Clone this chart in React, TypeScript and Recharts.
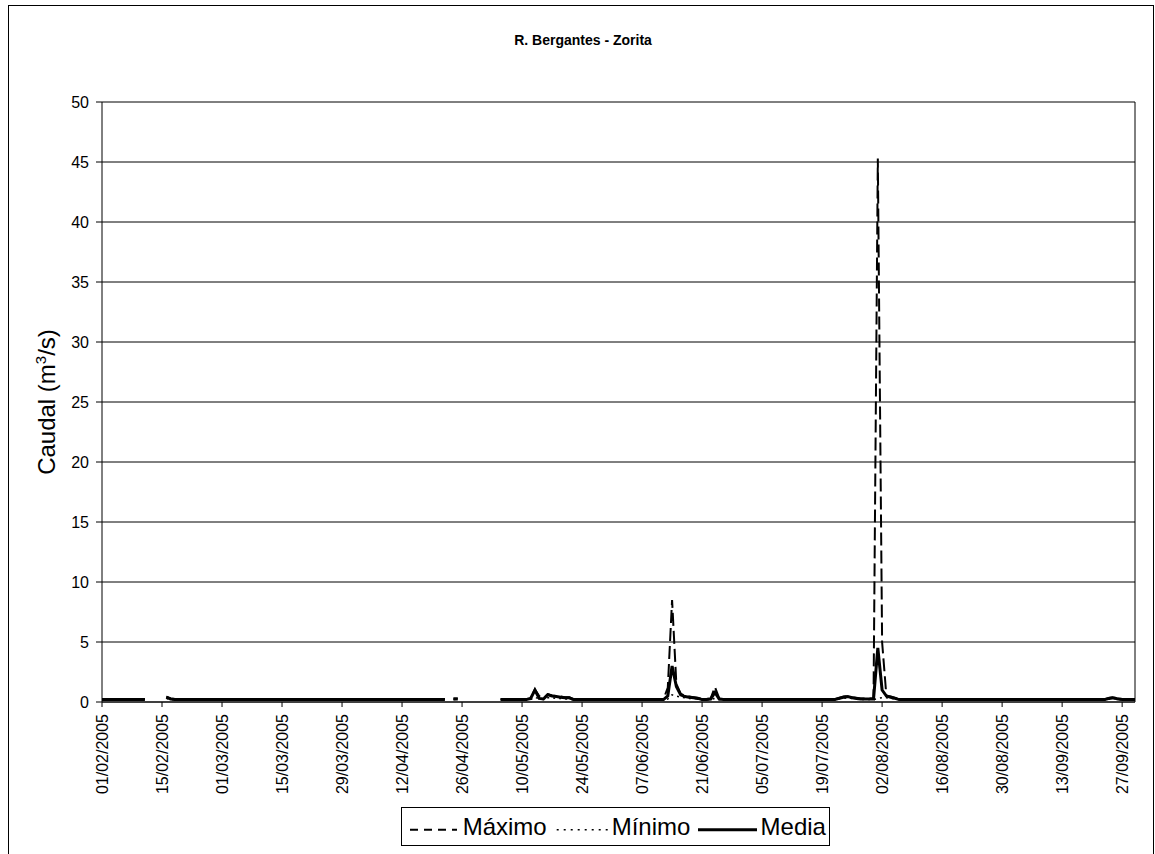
import React from 'react';
import { LineChart, Line, XAxis, YAxis, CartesianGrid, Legend, ReferenceLine } from 'recharts';

const FONT = "'Liberation Sans', Arial, sans-serif";
const N = null;

// Categories: daily dates from 01/02/2005 to 30/09/2005
const START_UTC = Date.UTC(2005, 1, 1);
const DAY_COUNT = 242;
const pad = (n: number) => (n < 10 ? '0' + n : '' + n);
const dates: string[] = [];
for (let i = 0; i < DAY_COUNT; i++) {
  const d = new Date(START_UTC + i * 86400000);
  dates.push(`${pad(d.getUTCDate())}/${pad(d.getUTCMonth() + 1)}/${d.getUTCFullYear()}`);
}

const seriesNames = ['Máximo', 'Mínimo', 'Media'];
const yTicks = [0, 5, 10, 15, 20, 25, 30, 35, 40, 45, 50];

const maximo: (number | null)[] = [
  0.25, 0.25, 0.25, 0.25, 0.25, 0.25, 0.25, 0.25, 0.25, 0.25,
  0.25, N, N, N, N, 0.45, 0.3, 0.25, 0.25, 0.25,
  0.25, 0.25, 0.25, 0.25, 0.25, 0.25, 0.25, 0.25, 0.25, 0.25,
  0.25, 0.25, 0.25, 0.25, 0.25, 0.25, 0.25, 0.25, 0.25, 0.25,
  0.25, 0.25, 0.25, 0.25, 0.25, 0.25, 0.25, 0.25, 0.25, 0.25,
  0.25, 0.25, 0.25, 0.25, 0.25, 0.25, 0.25, 0.25, 0.25, 0.25,
  0.25, 0.25, 0.25, 0.25, 0.25, 0.25, 0.25, 0.25, 0.25, 0.25,
  0.25, 0.25, 0.25, 0.25, 0.25, 0.25, 0.25, 0.25, 0.25, 0.25,
  0.25, N, 0.3, 0.3, N, N, N, N, N, N,
  N, N, N, 0.25, 0.25, 0.25, 0.25, 0.25, 0.25, 0.25,
  0.3, 1.05, 0.5, 0.3, 0.65, 0.55, 0.5, 0.45, 0.4, 0.4,
  0.25, 0.25, 0.25, 0.25, 0.25, 0.25, 0.25, 0.25, 0.25, 0.25,
  0.25, 0.25, 0.25, 0.25, 0.25, 0.25, 0.25, 0.25, 0.25, 0.25,
  0.25, 0.25, 1.2, 8.5, 1.5, 0.7, 0.5, 0.45, 0.4, 0.35,
  0.25, 0.25, 0.3, 1.25, 0.3, 0.25, 0.25, 0.25, 0.25, 0.25,
  0.25, 0.25, 0.25, 0.25, 0.25, 0.25, 0.25, 0.25, 0.25, 0.25,
  0.25, 0.25, 0.25, 0.25, 0.25, 0.25, 0.25, 0.25, 0.25, 0.25,
  0.25, 0.25, 0.35, 0.45, 0.5, 0.4, 0.35, 0.3, 0.3, 0.3,
  0.3, 45.3, 5.0, 0.5, 0.45, 0.35, 0.25, 0.25, 0.25, 0.25,
  0.25, 0.25, 0.25, 0.25, 0.25, 0.25, 0.25, 0.25, 0.25, 0.25,
  0.25, 0.25, 0.25, 0.25, 0.25, 0.25, 0.25, 0.25, 0.25, 0.25,
  0.25, 0.25, 0.25, 0.25, 0.25, 0.25, 0.25, 0.25, 0.25, 0.25,
  0.25, 0.25, 0.25, 0.25, 0.25, 0.25, 0.25, 0.25, 0.25, 0.25,
  0.25, 0.25, 0.25, 0.25, 0.25, 0.35, 0.4, 0.3, 0.25, 0.25,
  0.25, 0.25,
];

const minimo: (number | null)[] = [
  0.18, 0.18, 0.18, 0.18, 0.18, 0.18, 0.18, 0.18, 0.18, 0.18,
  0.18, N, N, N, N, 0.3, 0.2, 0.18, 0.18, 0.18,
  0.18, 0.18, 0.18, 0.18, 0.18, 0.18, 0.18, 0.18, 0.18, 0.18,
  0.18, 0.18, 0.18, 0.18, 0.18, 0.18, 0.18, 0.18, 0.18, 0.18,
  0.18, 0.18, 0.18, 0.18, 0.18, 0.18, 0.18, 0.18, 0.18, 0.18,
  0.18, 0.18, 0.18, 0.18, 0.18, 0.18, 0.18, 0.18, 0.18, 0.18,
  0.18, 0.18, 0.18, 0.18, 0.18, 0.18, 0.18, 0.18, 0.18, 0.18,
  0.18, 0.18, 0.18, 0.18, 0.18, 0.18, 0.18, 0.18, 0.18, 0.18,
  0.18, N, 0.2, 0.2, N, N, N, N, N, N,
  N, N, N, 0.18, 0.18, 0.18, 0.18, 0.18, 0.18, 0.18,
  0.2, 0.4, 0.25, 0.2, 0.35, 0.35, 0.3, 0.3, 0.25, 0.25,
  0.18, 0.18, 0.18, 0.18, 0.18, 0.18, 0.18, 0.18, 0.18, 0.18,
  0.18, 0.18, 0.18, 0.18, 0.18, 0.18, 0.18, 0.18, 0.18, 0.18,
  0.18, 0.18, 0.25, 0.6, 0.5, 0.4, 0.35, 0.3, 0.3, 0.25,
  0.18, 0.18, 0.2, 0.3, 0.2, 0.18, 0.18, 0.18, 0.18, 0.18,
  0.18, 0.18, 0.18, 0.18, 0.18, 0.18, 0.18, 0.18, 0.18, 0.18,
  0.18, 0.18, 0.18, 0.18, 0.18, 0.18, 0.18, 0.18, 0.18, 0.18,
  0.18, 0.18, 0.25, 0.3, 0.35, 0.3, 0.25, 0.2, 0.2, 0.2,
  0.2, 0.3, 0.35, 0.35, 0.3, 0.25, 0.18, 0.18, 0.18, 0.18,
  0.18, 0.18, 0.18, 0.18, 0.18, 0.18, 0.18, 0.18, 0.18, 0.18,
  0.18, 0.18, 0.18, 0.18, 0.18, 0.18, 0.18, 0.18, 0.18, 0.18,
  0.18, 0.18, 0.18, 0.18, 0.18, 0.18, 0.18, 0.18, 0.18, 0.18,
  0.18, 0.18, 0.18, 0.18, 0.18, 0.18, 0.18, 0.18, 0.18, 0.18,
  0.18, 0.18, 0.18, 0.18, 0.18, 0.25, 0.3, 0.2, 0.18, 0.18,
  0.18, 0.18,
];

const media: (number | null)[] = [
  0.2, 0.2, 0.2, 0.2, 0.2, 0.2, 0.2, 0.2, 0.2, 0.2,
  0.2, N, N, N, N, 0.4, 0.25, 0.2, 0.2, 0.2,
  0.2, 0.2, 0.2, 0.2, 0.2, 0.2, 0.2, 0.2, 0.2, 0.2,
  0.2, 0.2, 0.2, 0.2, 0.2, 0.2, 0.2, 0.2, 0.2, 0.2,
  0.2, 0.2, 0.2, 0.2, 0.2, 0.2, 0.2, 0.2, 0.2, 0.2,
  0.2, 0.2, 0.2, 0.2, 0.2, 0.2, 0.2, 0.2, 0.2, 0.2,
  0.2, 0.2, 0.2, 0.2, 0.2, 0.2, 0.2, 0.2, 0.2, 0.2,
  0.2, 0.2, 0.2, 0.2, 0.2, 0.2, 0.2, 0.2, 0.2, 0.2,
  0.2, N, 0.25, 0.25, N, N, N, N, N, N,
  N, N, N, 0.2, 0.2, 0.2, 0.2, 0.2, 0.2, 0.2,
  0.3, 1.0, 0.3, 0.25, 0.6, 0.5, 0.45, 0.4, 0.35, 0.35,
  0.2, 0.2, 0.2, 0.2, 0.2, 0.2, 0.2, 0.2, 0.2, 0.2,
  0.2, 0.2, 0.2, 0.2, 0.2, 0.2, 0.2, 0.2, 0.2, 0.2,
  0.2, 0.2, 0.5, 3.0, 1.3, 0.6, 0.45, 0.4, 0.35, 0.3,
  0.2, 0.2, 0.25, 0.8, 0.25, 0.2, 0.2, 0.2, 0.2, 0.2,
  0.2, 0.2, 0.2, 0.2, 0.2, 0.2, 0.2, 0.2, 0.2, 0.2,
  0.2, 0.2, 0.2, 0.2, 0.2, 0.2, 0.2, 0.2, 0.2, 0.2,
  0.2, 0.2, 0.3, 0.4, 0.45, 0.35, 0.3, 0.25, 0.25, 0.25,
  0.25, 4.5, 1.0, 0.5, 0.4, 0.3, 0.2, 0.2, 0.2, 0.2,
  0.2, 0.2, 0.2, 0.2, 0.2, 0.2, 0.2, 0.2, 0.2, 0.2,
  0.2, 0.2, 0.2, 0.2, 0.2, 0.2, 0.2, 0.2, 0.2, 0.2,
  0.2, 0.2, 0.2, 0.2, 0.2, 0.2, 0.2, 0.2, 0.2, 0.2,
  0.2, 0.2, 0.2, 0.2, 0.2, 0.2, 0.2, 0.2, 0.2, 0.2,
  0.2, 0.2, 0.2, 0.2, 0.2, 0.3, 0.35, 0.25, 0.2, 0.2,
  0.2, 0.2,
];

const data = dates.map((date, i) => ({
  date,
  maximo: maximo[i],
  minimo: minimo[i],
  media: media[i],
}));

const XTick = (props: any) => {
  const { x, y, payload } = props;
  return (
    <text
      x={x}
      y={y}
      dy="0.36em"
      transform={`rotate(-90, ${x}, ${y})`}
      textAnchor="end"
      fontSize={16}
      fontFamily={FONT}
      fill="#000"
    >
      {payload.value}
    </text>
  );
};

const YLabel = () => (
  <text
    x={46}
    y={396}
    transform="rotate(-90, 46, 396)"
    textAnchor="middle"
    fontSize={24}
    fontFamily={FONT}
    fill="#000"
  >
    <tspan>Caudal (m</tspan>
    <tspan fontSize={15} dy={-9}>3</tspan>
    <tspan dy={9}>/s)</tspan>
  </text>
);

const legendStyles: Record<string, { dash?: string; width: number; x1: number; x2: number; tx: number }> = {
  'Máximo': { dash: '8 6', width: 2, x1: 9, x2: 56, tx: 61.7 },
  'Mínimo': { dash: '2 5', width: 1.5, x1: 155.7, x2: 208, tx: 210.7 },
  'Media': { dash: undefined, width: 3, x1: 297, x2: 356, tx: 359.6 },
};

const LegendBox = () => (
  <svg width={429} height={39} style={{ display: 'block' }}>
    <rect x={0.5} y={0.5} width={428} height={38} fill="#fff" stroke="#000" strokeWidth={1} />
    {seriesNames.map((name) => {
      const s = legendStyles[name];
      return (
        <g key={name}>
          <line x1={s.x1} x2={s.x2} y1={22.7} y2={22.7} stroke="#000" strokeWidth={s.width} strokeDasharray={s.dash} />
          <text x={s.tx} y={28} fontSize={24} fontFamily={FONT} fill="#000">
            {name}
          </text>
        </g>
      );
    })}
  </svg>
);

export default function App() {
  return (
    <div
      style={{
        position: 'absolute',
        left: 8,
        top: 5,
        width: 1146,
        height: 860,
        border: '1px solid #000',
        boxSizing: 'border-box',
        background: '#fff',
      }}
    >
      <svg width={1144} height={60} style={{ position: 'absolute', left: 0, top: 0, zIndex: 1 }}>
        <text x={574} y={39} textAnchor="middle" fontSize={14} fontWeight="bold" fontFamily={FONT} fill="#000">
          R. Bergantes - Zorita
        </text>
      </svg>
      <LineChart
        width={1144}
        height={848}
        data={data}
        margin={{ top: 96, right: 18, left: 0, bottom: 52 }}
      >
        <CartesianGrid vertical={false} stroke="#000" strokeWidth={1} />
        <XAxis
          dataKey="date"
          scale="point"
          interval={13}
          tickSize={5}
          tickMargin={7}
          height={100}
          axisLine={{ stroke: '#000' }}
          tickLine={{ stroke: '#000' }}
          tick={XTick}
        />
        <YAxis
          type="number"
          domain={[0, 50]}
          ticks={yTicks}
          interval={0}
          width={93}
          tickSize={6}
          tickMargin={7}
          axisLine={{ stroke: '#000' }}
          tickLine={{ stroke: '#000' }}
          tick={{ fontSize: 16, fill: '#000', fontFamily: FONT }}
          label={{ content: YLabel }}
        />
        <ReferenceLine x={dates[DAY_COUNT - 1]} stroke="#000" strokeWidth={1} />
        <Legend
          layout="horizontal"
          verticalAlign="middle"
          align="center"
          content={LegendBox}
          wrapperStyle={{ left: 392, top: 801, width: 429, height: 39 }}
        />
        <Line
          name={seriesNames[0]}
          dataKey="maximo"
          stroke="#000"
          strokeWidth={2}
          strokeDasharray="13 5"
          dot={false}
          activeDot={false}
          isAnimationActive={false}
        />
        <Line
          name={seriesNames[1]}
          dataKey="minimo"
          stroke="#000"
          strokeWidth={1.5}
          strokeDasharray="2 4"
          dot={false}
          activeDot={false}
          isAnimationActive={false}
        />
        <Line
          name={seriesNames[2]}
          dataKey="media"
          stroke="#000"
          strokeWidth={3}
          dot={false}
          activeDot={false}
          isAnimationActive={false}
        />
      </LineChart>
    </div>
  );
}
